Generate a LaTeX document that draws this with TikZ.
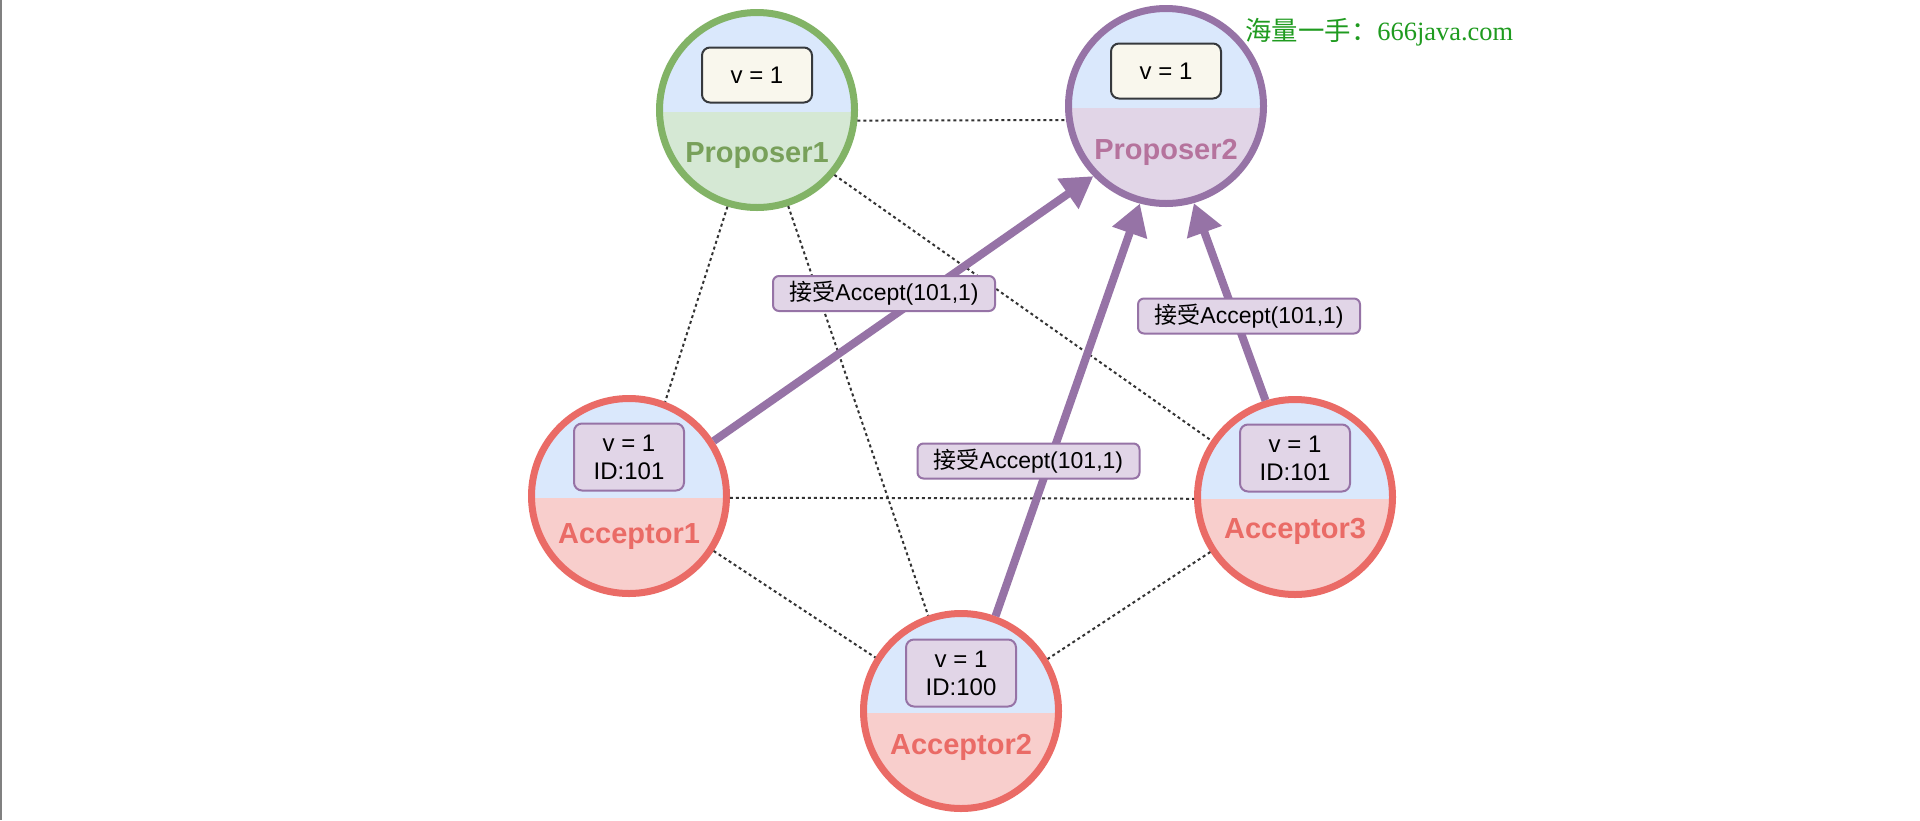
\documentclass[tikz,border=0pt]{standalone}
\usepackage{fontspec}
\setmainfont{Liberation Sans}
\newfontfamily\cjkfont{Noto Sans CJK SC}
\newfontfamily\wmserif{Liberation Serif}
\usetikzlibrary{arrows.meta}

\definecolor{topblue}{HTML}{DAE8FC}
\definecolor{grnfill}{HTML}{D5E8D4}
\definecolor{grndraw}{HTML}{82B366}
\definecolor{grntext}{HTML}{78A05A}
\definecolor{purfill}{HTML}{E1D5E7}
\definecolor{purdraw}{HTML}{9673A6}
\definecolor{purtext}{HTML}{B5739D}
\definecolor{redfill}{HTML}{F8CECC}
\definecolor{reddraw}{HTML}{EA6B66}
\definecolor{boxfill}{HTML}{F9F7ED}
\definecolor{boxdraw}{HTML}{36393D}
\definecolor{dotcol}{HTML}{333333}
\definecolor{wmgreen}{HTML}{1F9B1F}
\definecolor{framegray}{HTML}{808080}

\tikzset{
  peer/.style n args={2}{circle, minimum size=97.5pt, inner sep=0pt,
    line width=3.5pt, draw=#1,
    path picture={
      \fill[topblue] (path picture bounding box.north west)
        rectangle ([yshift=-1.2pt]path picture bounding box.east);
      \fill[#2] ([yshift=-1.2pt]path picture bounding box.west)
        rectangle (path picture bounding box.south east);
    }},
  peername/.style={anchor=base, inner sep=0pt,
    font=\fontsize{14.5pt}{17pt}\selectfont\bfseries},
  valbox/.style={draw=boxdraw, fill=boxfill, line width=1pt,
    rounded corners=4pt, minimum width=55pt, minimum height=27.5pt,
    inner sep=0pt, font=\fontsize{12pt}{14pt}\selectfont},
  accbox/.style={draw=purdraw, fill=purfill, line width=1pt,
    rounded corners=4pt, minimum width=55pt, minimum height=33.5pt,
    inner sep=0pt, align=center, font=\fontsize{12pt}{14pt}\selectfont},
  msgbox/.style={draw=purdraw, fill=purfill, line width=1pt,
    rounded corners=3pt, minimum width=111pt, minimum height=17.5pt,
    inner sep=0pt, font=\fontsize{11.5pt}{13pt}\selectfont},
  peerlink/.style={draw=dotcol, line width=1pt, dash pattern=on 1.5pt off 1.5pt},
  accept/.style={draw=purdraw, line width=4pt,
    -{Triangle[length=15.5pt, width=17.5pt]}},
}

\begin{document}
\begin{tikzpicture}[x=0.5pt, y=-0.5pt]
  % canvas and left frame line
  \fill[white] (0,0) rectangle (1920,820);
  \useasboundingbox (0,0) rectangle (1920,820);
  \draw[framegray, line width=0.75pt] (0.75,0) -- (0.75,820);

  % proposers and acceptors
  \node[peer={grndraw}{grnfill}] (P1) at (757,110) {};
  \node[peer={purdraw}{purfill}] (P2) at (1166,106) {};
  \node[peer={reddraw}{redfill}] (A1) at (629,496) {};
  \node[peer={reddraw}{redfill}] (A2) at (961,711) {};
  \node[peer={reddraw}{redfill}] (A3) at (1295,497) {};

  % names
  \node[peername, text=grntext] (P1n) at ([yshift=-26pt]P1.center) {Proposer1};
  \node[peername, text=purtext] (P2n) at ([yshift=-26.5pt]P2.center) {Proposer2};
  \node[peername, text=reddraw] (A1n) at ([yshift=-23.5pt]A1.center) {Acceptor1};
  \node[peername, text=reddraw] (A2n) at ([yshift=-21.5pt]A2.center) {Acceptor2};
  \node[peername, text=reddraw] (A3n) at ([yshift=-20.5pt]A3.center) {Acceptor3};

  % stored values
  \node[valbox] (P1v) at ([yshift=17.5pt]P1.center) {v = 1};
  \node[valbox] (P2v) at ([yshift=17.5pt]P2.center) {v = 1};
  \node[accbox] (A1v) at ([yshift=19.5pt]A1.center) {v = 1\\ID:101};
  \node[accbox] (A2v) at ([yshift=19pt]A2.center) {v = 1\\ID:100};
  \node[accbox] (A3v) at ([yshift=19.5pt]A3.center) {v = 1\\ID:101};

  % mesh links
  \draw[peerlink] (P1.-6) -- (P2.188);
  \draw[peerlink] (P1.253) -- (A1.69);
  \draw[peerlink] (P1.288) -- (A2.109);
  \draw[peerlink] (P1.-40) -- (A3.146);
  \draw[peerlink] (A1.-1.5) -- (A3.181);
  \draw[peerlink] (A1.-33.5) -- (A2.148.5);
  \draw[peerlink] (A3.213.4) -- (A2.31);

  % accept messages to Proposer2
  \draw[accept] (A1.33) -- (P2.224);
  \draw[accept] (A2.70) -- (P2.255.6);
  \draw[accept] (A3.107) -- (P2.286.6);

  % message labels
  \node[msgbox] (L1) at (884,293.5) {{\cjkfont 接受}Accept(101,1)};
  \node[msgbox] (L2) at (1028.5,461) {{\cjkfont 接受}Accept(101,1)};
  \node[msgbox] (L3) at (1249,316) {{\cjkfont 接受}Accept(101,1)};

  % site mark
  \node[anchor=base west, inner sep=0pt, text=wmgreen,
        font=\fontsize{13.2pt}{15pt}\selectfont] (wm) at (1245,40)
        {{\cjkfont 海量一手：}{\wmserif 666java.com}};
\end{tikzpicture}
\end{document}
